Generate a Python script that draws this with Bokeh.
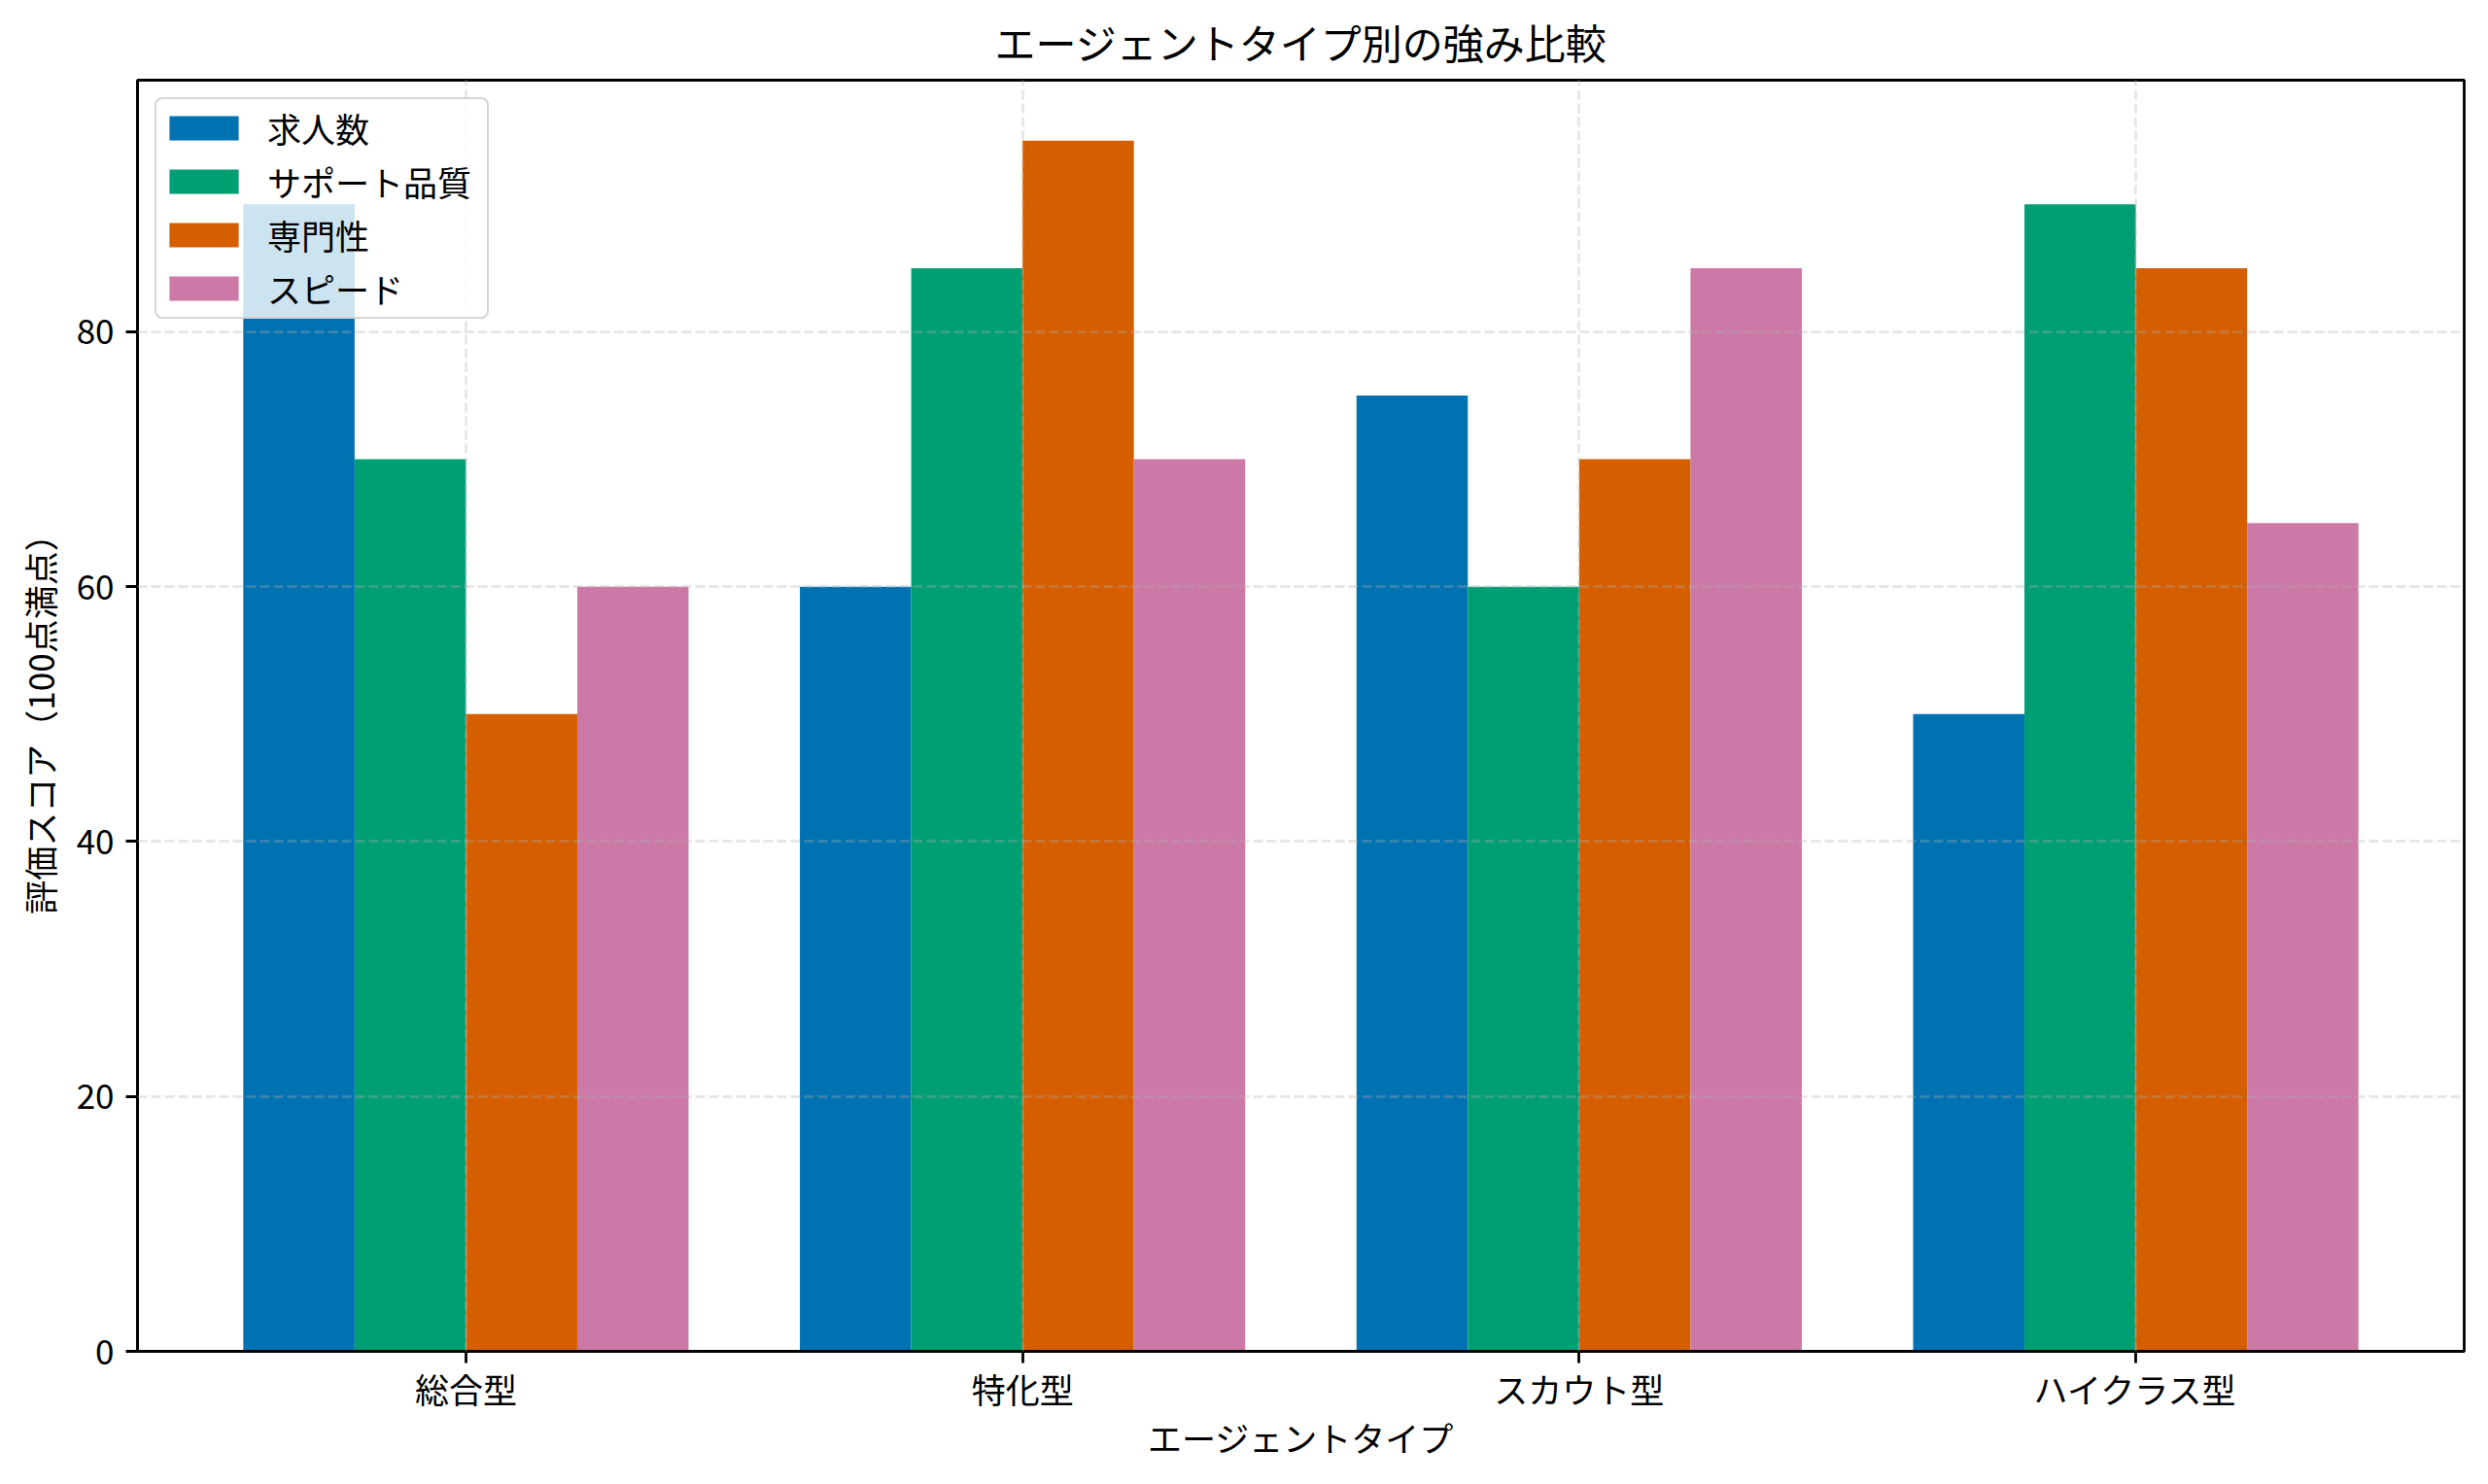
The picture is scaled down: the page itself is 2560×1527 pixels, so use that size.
from bokeh.plotting import figure
from bokeh.models import ColumnDataSource, Range1d, FixedTicker, Legend, LegendItem
from bokeh.transform import dodge
from bokeh.embed import file_html
from bokeh.resources import INLINE

categories = ["総合型", "特化型", "スカウト型", "ハイクラス型"]
series_names = ["求人数", "サポート品質", "専門性", "スピード"]
job_count = [90, 60, 75, 50]
support_quality = [70, 85, 60, 90]
expertise = [50, 95, 70, 85]
speed = [60, 70, 85, 65]
colors = ["#0072B2", "#009E73", "#D55E00", "#CC79A7"]
y_ticks = [0, 20, 40, 60, 80]

FONT = "Noto Sans CJK JP"

src = ColumnDataSource(dict(
    x=list(range(len(categories))),
    s0=job_count, s1=support_quality, s2=expertise, s3=speed,
))

p = figure(
    frame_width=2394, frame_height=1308,
    x_range=Range1d(-0.59, 3.59), y_range=Range1d(0, 99.75),
    output_backend="svg", toolbar_location=None,
    min_border_left=141, min_border_top=82, min_border_right=9, min_border_bottom=121,
)
p.background_fill_color = "white"
p.border_fill_color = "white"
p.outline_line_color = "black"
p.outline_line_width = 2.8

bw = 0.2
offsets = [-1.5 * bw, -0.5 * bw, 0.5 * bw, 1.5 * bw]
renderers = []
for i, (name, col) in enumerate(zip(series_names, colors)):
    r = p.vbar(x=dodge("x", offsets[i], range=p.x_range), top=f"s{i}", width=bw,
               source=src, fill_color=col, line_color=None)
    renderers.append(r)

# axes
p.xaxis.ticker = FixedTicker(ticks=list(range(len(categories))))
p.xaxis.major_label_overrides = {i: c for i, c in enumerate(categories)}
p.yaxis.ticker = FixedTicker(ticks=y_ticks)
for ax in (p.xaxis[0], p.yaxis[0]):
    ax.axis_line_color = "black"
    ax.axis_line_width = 2.8
    ax.major_tick_line_color = "black"
    ax.major_tick_line_width = 2.8
    ax.major_tick_out = 12
    ax.major_tick_in = 0
    ax.minor_tick_line_color = None
    ax.major_label_text_font = FONT
    ax.major_label_text_font_size = "35px"
    ax.major_label_text_color = "black"
    ax.axis_label_text_font = FONT
    ax.axis_label_text_font_size = "35px"
    ax.axis_label_text_font_style = "normal"
    ax.axis_label_text_color = "black"
p.xaxis.axis_label = "エージェントタイプ"
p.yaxis.axis_label = "評価スコア（100点満点）"
p.xaxis.major_label_standoff = 0
p.yaxis.major_label_standoff = 12
p.xaxis.axis_label_standoff = -4
p.yaxis.axis_label_standoff = 10

# grid
for g in (p.xgrid[0], p.ygrid[0]):
    g.grid_line_color = "#b0b0b0"
    g.grid_line_alpha = 0.3
    g.grid_line_width = 2.8
    g.grid_line_dash = "10 4"
    g.level = "guide"

# title
p.title.text = "エージェントタイプ別の強み比較"
p.title.text_font = FONT
p.title.text_font_size = "42px"
p.title.text_font_style = "normal"
p.title.align = "center"
p.title.text_color = "black"
p.title.standoff = 19

legend = Legend(
    items=[LegendItem(label=n, renderers=[r]) for n, r in zip(series_names, renderers)],
    location="top_left",
)
legend.margin = 18
legend.padding = 4
legend.glyph_width = 89
legend.glyph_height = 31
legend.label_standoff = 21
legend.label_width = 222
legend.spacing = 4
legend.label_text_font = FONT
legend.label_text_font_size = "35px"
legend.label_text_color = "black"
legend.background_fill_color = "white"
legend.background_fill_alpha = 0.8
legend.border_line_color = "#cccccc"
legend.border_line_width = 2.8
legend.border_line_alpha = 0.8
legend.border_radius = 8
p.add_layout(legend, "center")

open("out.html", "w").write(file_html(p, INLINE))
